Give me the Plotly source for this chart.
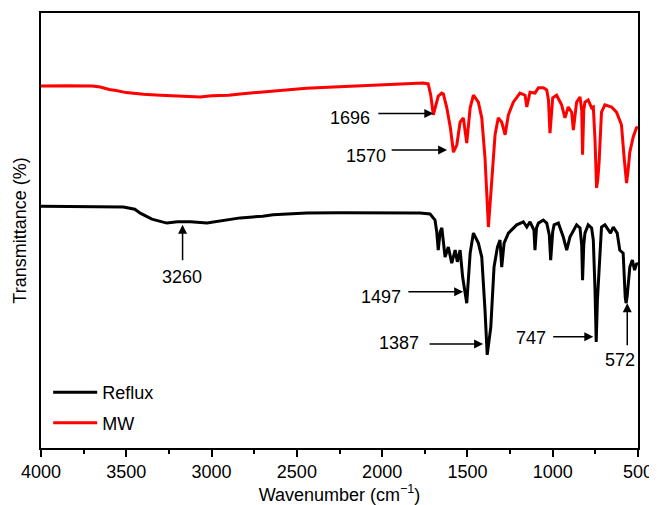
import plotly.graph_objects as go

# Wavenumber (cm-1) and transmittance (arbitrary offset units)
mw_wn = [4000, 3850, 3700, 3653, 3600, 3560, 3500, 3400, 3300, 3200, 3067, 3000, 2900, 2833,
         2750, 2639, 2550, 2443, 2350, 2246, 2150, 2053, 1950, 1856, 1760, 1730, 1715, 1700,
         1685, 1671, 1650, 1641, 1621, 1600, 1582, 1562, 1543, 1524, 1504, 1484, 1465, 1436,
         1416, 1397, 1377, 1357, 1338, 1319, 1299, 1279, 1260, 1231, 1192, 1162, 1152, 1133,
         1104, 1084, 1055, 1035, 1025, 1016, 1005, 1000, 977, 948, 928, 909, 889, 879, 860,
         840, 830, 825, 818, 811, 792, 772, 762, 752, 743, 736, 728, 714, 694, 655, 626, 597,
         580, 567, 558, 548, 528, 509, 500]
mw_t = [83.2, 83.3, 83.2, 83.0, 82.4, 82.2, 81.7, 81.3, 81.1, 81.0, 80.7, 81.0, 81.1, 81.4,
        81.7, 82.1, 82.3, 82.7, 82.9, 83.1, 83.2, 83.3, 83.6, 83.8, 83.9, 83.7, 81.1, 76.6,
        78.6, 80.9, 81.6, 81.4, 78.2, 73.6, 68.0, 69.7, 74.9, 75.9, 70.1, 78.2, 81.1, 79.5,
        75.9, 66.7, 50.8, 62.8, 72.0, 75.9, 74.9, 72.0, 76.6, 79.5, 81.6, 81.1, 78.4, 81.8,
        81.6, 82.8, 82.8, 82.3, 80.0, 72.4, 78.9, 80.5, 81.1, 78.9, 75.9, 78.4, 77.2, 73.1, 79.5,
        80.7, 77.7, 67.4, 77.7, 79.5, 80.0, 78.2, 78.4, 70.8, 59.8, 61.6, 65.7, 77.2, 78.9, 78.4, 77.2, 74.3,
        66.2, 60.9, 63.9, 68.0, 71.5, 73.6, 73.8]

reflux_wn = [4000, 3800, 3600, 3517, 3450, 3418, 3350, 3300, 3262, 3200, 3125, 3027, 2950, 2832,
             2700, 2639, 2500, 2442, 2246, 2053, 1856, 1778, 1719, 1690, 1680, 1671, 1660, 1650,
             1631, 1612, 1592, 1572, 1559, 1543, 1528, 1504, 1484, 1465, 1436, 1416, 1397, 1384,
             1363, 1344, 1324, 1309, 1299, 1285, 1260, 1211, 1172, 1152, 1133, 1110, 1104, 1095,
             1084, 1055, 1035, 1020, 1012, 1000, 992, 967, 938, 918, 899, 879, 860, 840, 830, 825,
             818, 811, 792, 772, 762, 752, 745, 738, 723, 714, 694, 675, 661, 645, 622, 607, 587,
             575, 570, 564, 555, 548, 533, 520, 507, 500]
reflux_t = [55.6, 55.5, 55.4, 55.4, 54.9, 54.0, 52.6, 52.0, 51.7, 52.0, 52.0, 51.7, 52.2, 52.9,
            53.3, 53.6, 53.9, 54.0, 54.1, 54.1, 54.1, 54.0, 53.8, 52.4, 49.7, 45.5, 49.7, 50.6,
            43.9, 46.2, 42.5, 45.5, 42.8, 45.5, 39.3, 33.3, 44.8, 49.4, 47.1, 43.9, 31.7, 21.4,
            27.8, 41.6, 46.2, 47.8, 41.6, 47.1, 49.4, 51.3, 52.0, 50.8, 52.0, 50.1, 45.5, 50.6,
            51.7, 52.4, 51.7, 49.0, 43.2, 49.7, 51.3, 51.7, 48.5, 45.5, 48.5, 50.1, 51.3, 50.6, 46.7, 38.6,
            46.7, 49.4, 51.3, 50.6, 47.8, 36.3, 24.4, 34.0, 45.5, 50.8, 51.3, 50.1, 49.4, 50.8, 49.4, 45.5, 44.8,
            34.7, 33.3, 34.7, 39.8, 41.6, 43.2, 40.9, 42.5, 42.1]

# Peak labels: text, arrow tip (wn, t), arrow tail (wn, t), text anchor (wn, t, xanchor)
peak_labels = ["1696", "1570", "3260", "1497", "1387", "747", "572"]
tip_wn = [1700, 1619, 3170, 1525, 1408, 762, 563]
tip_t = [76.9, 68.5, 51.3, 35.9, 23.9, 25.6, 33.3]
tail_wn = [2031, 1953, 3170, 1855, 1731, 1006, 563]
tail_t = [76.9, 68.5, 42.8, 35.9, 23.9, 25.6, 23.3]
text_wn = [2062, 1965, 3172, 1877, 1770, 1028, 605]
text_t = [75.8, 67.1, 39.3, 34.8, 24.1, 25.3, 20.2]
text_anchor = ["right", "right", "center", "right", "right", "right", "center"]

x_ticks = [4000, 3500, 3000, 2500, 2000, 1500, 1000, 500]

FONT = "Liberation Sans, Arial, sans-serif"

fig = go.Figure()
fig.add_trace(go.Scatter(x=reflux_wn, y=reflux_t, mode="lines", name="Reflux",
                         line=dict(color="black", width=3), legendgroup="a"))
fig.add_trace(go.Scatter(x=mw_wn, y=mw_t, mode="lines", name="MW",
                         line=dict(color="#ff0000", width=3), legendgroup="b"))

for i, lab in enumerate(peak_labels):
    fig.add_annotation(x=tip_wn[i], y=tip_t[i], ax=tail_wn[i], ay=tail_t[i],
                       axref="x", ayref="y", xref="x", yref="y", text="",
                       showarrow=True, arrowhead=2, arrowsize=1.2, arrowwidth=1.5,
                       arrowcolor="black")
    fig.add_annotation(x=text_wn[i], y=text_t[i], xref="x", yref="y", text=lab,
                       showarrow=False, xanchor=text_anchor[i], yanchor="middle",
                       font=dict(size=18, color="black", family=FONT))

# the page body has an 8px margin, so the figure is sized to fit inside the window
fig.update_layout(
    width=649, height=497,
    margin=dict(l=33, r=19, t=5, b=57, autoexpand=False),
    paper_bgcolor="white", plot_bgcolor="white",
    font=dict(family=FONT, size=18, color="black"),
    showlegend=True,
    legend=dict(x=0.012, y=0.17, xanchor="left", yanchor="top",
                bgcolor="rgba(0,0,0,0)", font=dict(size=18),
                tracegroupgap=4, itemwidth=44),
    xaxis=dict(range=[4000, 500], tickvals=x_ticks, ticks="outside", ticklen=7,
               tickwidth=1.5, tickcolor="black", automargin=False,
               minor=dict(dtick=250, ticks="outside", ticklen=4, tickwidth=1.5,
                          tickcolor="black"),
               showline=True, linecolor="black", linewidth=1.5, mirror=True,
               showgrid=False, zeroline=False,
               title=dict(text="Wavenumber (cm<sup>−1</sup>)", standoff=6,
                          font=dict(size=18)),
               tickfont=dict(size=18)),
    yaxis=dict(range=[0, 100], showticklabels=False, ticks="", automargin=False,
               showline=True, linecolor="black", linewidth=1.5, mirror=True,
               showgrid=False, zeroline=False,
               title=dict(text="Transmittance (%)", standoff=8, font=dict(size=18))),
)

fig.write_html("out.html")
